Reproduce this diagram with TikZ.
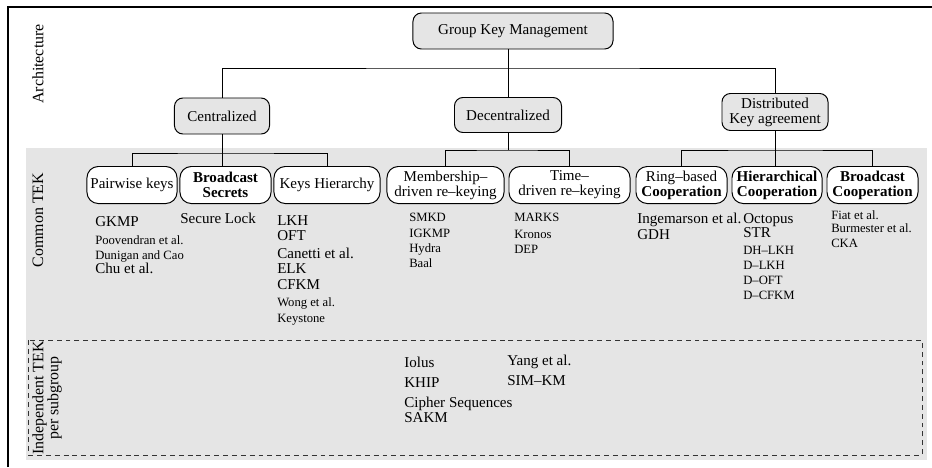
\documentclass[tikz,border=0pt]{standalone}
\usepackage{fontspec}
\setmainfont{Liberation Serif}
\usetikzlibrary{calc,positioning}

\newcommand{\lsize}{\fontsize{10.7}{10.7}\selectfont\lineskiplimit=-5pt}
\newcommand{\ssize}{\fontsize{9}{10.7}\selectfont\lineskiplimit=-5pt}

\tikzset{
	topbox/.style={shape=rectangle, draw, rounded corners=6pt, fill=black!10, line width=0.7pt, inner sep=1pt, font=\lsize, align=center},
	subbox/.style={shape=rectangle, draw, rounded corners=8pt, fill=white, line width=0.7pt, inner sep=0pt, minimum height=0.925cm, font=\lsize, align=center},
	list/.style={anchor=north west, inner sep=0pt, align=left, font=\lsize},
	side/.style={rotate=90, inner sep=0pt, align=center, font=\fontsize{11.3}{10.7}\selectfont},
	link/.style={line width=0.7pt}
}

\begin{document}
\begin{tikzpicture}[x=0.025cm, y=-0.025cm]
	\useasboundingbox (0,0) rectangle (932,467);
	
	% bands
	\fill [black!10] (26,148) rectangle (927,460);
	\draw [dashed, dash pattern=on 3.5pt off 2.8pt, line width=0.7pt, black!80] (28,340) rectangle (922,455);
	\draw [line width=1.5pt] (8,467) |- (932,7);
	
	\node(arch) at (38,64) [side] {Architecture};
	\node(common) at (38,220) [side] {Common TEK};
	\node(indep) at (47,398) [side] {Independent TEK\\per subgroup};
	
	% architecture
	\node(gkm) at (513,31) [topbox, minimum width=5cm, minimum height=0.9cm] {Group Key Management};
	\node(cen) at (222,116) [topbox, minimum width=2.375cm, minimum height=0.9cm] {Centralized};
	\node(dec) at (508,115) [topbox, minimum width=2.675cm, minimum height=0.875cm] {Decentralized};
	\node(dist) at (775,112) [topbox, minimum width=2.65cm, minimum height=0.925cm] {Distributed\\Key agreement};
	
	\coordinate (bar0) at (507,68);
	\draw [link] (cen.north) |- (bar0) -| (dist.north);
	\draw [link] (gkm.south -| dec.north) -- (dec.north);
	
	% common TEK
	\node(pair) at (132,185) [subbox, minimum width=2.25cm] {Pairwise keys};
	\node(sec) at (225.5,185) [subbox, minimum width=2.275cm] {\textbf{Broadcast}\\\textbf{Secrets}};
	\node(keys) at (327,185) [subbox, minimum width=2.65cm] {Keys Hierarchy};
	\node(mem) at (445.5,185) [subbox, minimum width=2.925cm] {Membership--\\driven re--keying};
	\node(time) at (569.5,185) [subbox, minimum width=3.025cm] {Time--\\driven re--keying};
	\node(ring) at (681.5,185) [subbox, minimum width=2.275cm] {Ring--based\\\textbf{Cooperation}};
	\node(hier) at (777,185) [subbox, minimum width=2.25cm] {\textbf{Hierarchical}\\\textbf{Cooperation}};
	\node(bcoop) at (872.5,185) [subbox, minimum width=2.275cm] {\textbf{Broadcast}\\\textbf{Cooperation}};
	
	\coordinate (barC) at (222,153);
	\coordinate (barD) at (507,150);
	\coordinate (barK) at (774,150);
	\draw [link] (pair.north) |- (barC) -| (keys.north);
	\draw [link] (cen.south) -- (cen.south |- sec.north);
	\draw [link] (mem.north) |- (barD) -| (time.north);
	\draw [link] (dec.south) -- (dec.south |- barD);
	\draw [link] (ring.north) |- (barK) -| (bcoop.north);
	\draw [link] (dist.south) -- (dist.south |- hier.north);
	
	\node(pairlist) at (95,216) [list] {GKMP\\[2.1pt] {\ssize Poovendran et al.}\\ {\ssize Dunigan and Cao}\\[-0.7pt] Chu et al.};
	\node(seclist) at (180,213) [list] {Secure Lock};
	\node(keyslist) at (277,215) [list] {LKH\\ OFT\\[2.1pt] Canetti et al.\\ ELK\\[0.7pt] CFKM\\[1.4pt] {\ssize Wong et al.}\\[0.7pt] {\ssize Keystone}};
	\node(memlist) at (409,213) [list, font=\ssize] {SMKD\\[0.7pt] IGKMP\\ Hydra\\ Baal};
	\node(timelist) at (514,213) [list, font=\ssize] {MARKS\\[1.4pt] Kronos\\ DEP};
	\node(ringlist) at (637,213) [list] {Ingemarson et al.\\[0.7pt] GDH};
	\node(hierlist) at (743,213) [list] {Octopus\\[-0.6pt] STR\\[1.2pt] {\ssize DH--LKH}\\ {\ssize D--LKH}\\ {\ssize D--OFT}\\ {\ssize D--CFKM}};
	\node(bcooplist) at (831,210) [list, font=\ssize] {Fiat et al.\\[-1.4pt] Burmester et al.\\ CKA};
	
	% independent TEK
	\node(indlist) at (404,357) [list] {Iolus\\[3.5pt] KHIP\\[3.5pt] Cipher Sequences\\ SAKM};
	\node(yanglist) at (507,355) [list] {Yang et al.\\[3.5pt] SIM--KM};
\end{tikzpicture}
\end{document}
